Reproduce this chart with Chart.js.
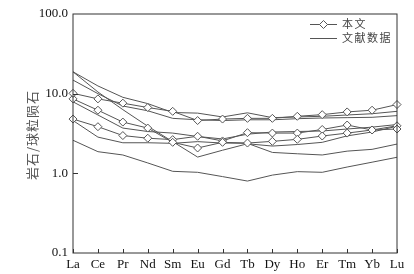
<!DOCTYPE html>
<html>
<head>
<meta charset="utf-8">
<script src="https://cdn.jsdelivr.net/npm/chart.js@4.4.1/dist/chart.umd.min.js"></script>
<style>
  html, body { margin: 0; padding: 0; background: #fff; }
  #wrap { width: 414px; height: 274px; position: relative; }
</style>
</head>
<body>
<div id="wrap"><canvas id="c"></canvas></div>
<script>
// REE, chondrite normalised
const elements = ['La', 'Ce', 'Pr', 'Nd', 'Sm', 'Eu', 'Gd', 'Tb', 'Dy', 'Ho', 'Er', 'Tm', 'Yb', 'Lu'];

// 本文 (diamond samples)
const sample1 = [10.1, 8.6, 7.6, 6.7, 6.0, 4.6, 4.8, 4.9, 4.9, 5.2, 5.45, 5.9, 6.2, 7.3];
const sample2 = [8.6, 6.2, 4.4, 3.7, 2.45, 2.08, 2.45, 2.4, 2.52, 2.67, 2.94, 3.2, 3.5, 3.6];
const sample3 = [4.8, 3.85, 2.98, 2.76, 2.65, 2.92, 2.55, 3.24, 3.2, 3.2, 3.55, 4.04, 3.5, 3.95];

// 文献数据 (plain lines)
const lit1 = [18.8, 12.5, 9.0, 7.5, 5.8, 5.7, 5.1, 5.75, 5.0, 5.1, 5.2, 5.4, 5.6, 6.0];
const lit2 = [14.8, 10.0, 7.0, 6.1, 4.9, 4.7, 4.6, 4.7, 4.7, 4.85, 4.95, 5.0, 5.05, 5.3];
const lit3 = [18.8, 10.5, 6.3, 3.9, 2.5, 1.6, 1.95, 2.35, 2.2, 2.3, 2.45, 2.95, 3.3, 3.9];
const lit4 = [7.9, 5.4, 3.7, 3.35, 3.2, 2.9, 2.7, 3.1, 3.3, 3.35, 3.4, 3.6, 3.8, 4.1];
const lit5 = [4.6, 2.85, 2.42, 2.42, 2.38, 2.5, 2.4, 2.38, 1.83, 1.76, 1.7, 1.9, 2.0, 2.33];
const lit6 = [2.6, 1.87, 1.7, 1.35, 1.06, 1.03, 0.91, 0.8, 0.95, 1.05, 1.03, 1.2, 1.38, 1.59];

const yTicks = [0.1, 1, 10, 100];

const lineColor = '#555';
const serif = '"Liberation Serif", "DejaVu Serif", serif';
const cjk = '"Noto Sans CJK SC", sans-serif';

const sampleSet = (data) => ({
    label: '本文', data, borderColor: lineColor, borderWidth: 1, tension: 0,
    pointStyle: 'rectRot', pointRadius: 4, pointBackgroundColor: '#fff',
    pointBorderColor: lineColor, pointBorderWidth: 1, clip: false
});
const litSet = (data) => ({
    label: '文献数据', data, borderColor: lineColor, borderWidth: 1, tension: 0,
    pointRadius: 0, clip: false
});

// frame, inward ticks, y title and legend
const decor = {
    id: 'decor',
    afterDraw(chart) {
        const { ctx, chartArea: a, scales } = chart;
        ctx.save();
        ctx.strokeStyle = '#333';
        ctx.lineWidth = 1;
        ctx.strokeRect(a.left, a.top, a.right - a.left, a.bottom - a.top);

        ctx.beginPath();
        elements.forEach((e, i) => {
            const x = Math.round(scales.x.getPixelForValue(i)) + 0.5;
            ctx.moveTo(x, a.bottom);
            ctx.lineTo(x, a.bottom - 4);
        });
        [1, 10].forEach(v => {
            const y = Math.round(scales.y.getPixelForValue(v)) + 0.5;
            ctx.moveTo(a.left, y);
            ctx.lineTo(a.left + 5, y);
        });
        ctx.stroke();

        // y title
        ctx.save();
        ctx.translate(32, 135);
        ctx.rotate(-Math.PI / 2);
        ctx.fillStyle = '#555';
        ctx.font = '13px ' + cjk;
        ctx.letterSpacing = '1px';
        ctx.textAlign = 'center';
        ctx.textBaseline = 'middle';
        ctx.fillText('岩石/球粒陨石', 0, 0);
        ctx.restore();

        // legend
        const lx = 310, lw = 27;
        const rows = [{ y: 24, text: '本文', marker: true }, { y: 38, text: '文献数据', marker: false }];
        ctx.font = '11px ' + cjk;
        ctx.letterSpacing = '1.5px';
        ctx.textBaseline = 'middle';
        ctx.textAlign = 'left';
        rows.forEach(r => {
            ctx.strokeStyle = lineColor;
            ctx.beginPath();
            ctx.moveTo(lx, r.y + 0.5);
            ctx.lineTo(lx + lw, r.y + 0.5);
            ctx.stroke();
            if (r.marker) {
                const cx = lx + lw / 2, cy = r.y + 0.5, s = 4;
                ctx.beginPath();
                ctx.moveTo(cx, cy - s); ctx.lineTo(cx + s, cy);
                ctx.lineTo(cx, cy + s); ctx.lineTo(cx - s, cy);
                ctx.closePath();
                ctx.fillStyle = '#fff';
                ctx.fill();
                ctx.stroke();
            }
            ctx.fillStyle = '#444';
            ctx.fillText(r.text, 342, r.y);
        });
        ctx.restore();
    }
};

new Chart(document.getElementById('c'), {
    type: 'line',
    data: {
        labels: elements,
        datasets: [
            sampleSet(sample1), sampleSet(sample2), sampleSet(sample3),
            litSet(lit1), litSet(lit2), litSet(lit3), litSet(lit4), litSet(lit5), litSet(lit6)
        ]
    },
    options: {
        responsive: true,
        maintainAspectRatio: false,
        animation: false,
        devicePixelRatio: 1,
        layout: { padding: { top: 14, right: 17, left: 0, bottom: 0 } },
        plugins: { legend: { display: false }, tooltip: { enabled: false } },
        scales: {
            x: {
                type: 'category',
                offset: false,
                grid: { display: false, drawTicks: false },
                border: { display: false },
                ticks: { color: '#111', font: { family: serif, size: 13 }, padding: 4, maxRotation: 0, autoSkip: false },
                afterFit(s) { s.height = 21; }
            },
            y: {
                type: 'logarithmic',
                min: 0.1,
                max: 100,
                grid: { display: false, drawTicks: false },
                border: { display: false },
                afterBuildTicks(s) { s.ticks = yTicks.map(v => ({ value: v })); },
                ticks: {
                    color: '#111', font: { family: serif, size: 13 }, padding: 5,
                    callback: v => Number(v).toFixed(1)
                },
                afterFit(s) { s.width = 73; }
            }
        }
    },
    plugins: [decor]
});
</script>
</body>
</html>
